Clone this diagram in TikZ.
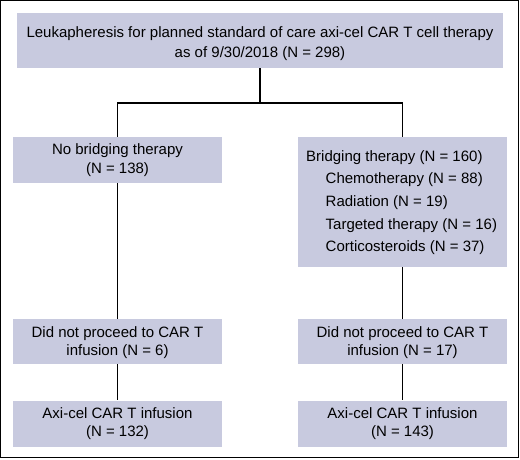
\documentclass[tikz,border=0pt]{standalone}
\usepackage{fontspec}
\setmainfont{Liberation Sans}
\definecolor{boxfill}{HTML}{C8CADF}
\begin{document}
\begin{tikzpicture}[x=1pt,y=-1pt,
  box/.style={fill=boxfill, draw=none, inner sep=0pt},
  txt/.style={font=\fontsize{15}{18}\selectfont, anchor=base, inner sep=0pt},
  item/.style={txt, anchor=base west},
  conn/.style={draw=black, line width=1.7pt}]
\useasboundingbox (0,0) rectangle (520,459);
\draw[line width=1pt] (0.5,0.5) rectangle (518.5,457.5);
% boxes
\node[box, minimum width=486, minimum height=55] (top) at (260,40.5) {};
\node[txt] (top1) at (260,37.5) {Leukapheresis for planned standard of care axi-cel CAR T cell therapy};
\node[txt] (top2) at (260,57) {as of 9/30/2018 (N = 298)};
\node[box, minimum width=209, minimum height=46] (nob) at (117.5,160) {};
\node[txt] (nob1) at (117.5,154.5) {No bridging therapy};
\node[txt] (nob2) at (117.5,173.5) {(N = 138)};
\node[box, minimum width=209, minimum height=130, anchor=north] (br) at (402.5,137) {};
\node[item] (brt) at (306,161) {Bridging therapy (N = 160)};
\node[item] (l1) at (325.5,183.7) {Chemotherapy (N = 88)};
\node[item] (l2) at (325.5,206.3) {Radiation (N = 19)};
\node[item] (l3) at (325.5,229) {Targeted therapy (N = 16)};
\node[item] (l4) at (325.5,251.7) {Corticosteroids (N = 37)};
\node[box, minimum width=209, minimum height=45] (dl) at (117.5,341.5) {};
\node[txt] (dl1) at (117.5,337.3) {Did not proceed to CAR T};
\node[txt] (dl2) at (117.5,355.7) {infusion (N = 6)};
\node[box, minimum width=209, minimum height=45] (dr) at (402.5,341.5) {};
\node[txt] (dr1) at (402.5,337.3) {Did not proceed to CAR T};
\node[txt] (dr2) at (402.5,355.7) {infusion (N = 17)};
\node[box, minimum width=209, minimum height=46] (al) at (117.5,423.5) {};
\node[txt] (al1) at (117.5,418.3) {Axi-cel CAR T infusion};
\node[txt] (al2) at (117.5,436) {(N = 132)};
\node[box, minimum width=209, minimum height=46] (ar) at (402.5,423.5) {};
\node[txt] (ar1) at (402.5,418.3) {Axi-cel CAR T infusion};
\node[txt] (ar2) at (402.5,436) {(N = 143)};
% connectors
\coordinate (split) at (260,103);
\draw[conn] (top.south) -- (split);
\draw[conn] (nob.north) |- (split) -| (br.north);
\draw[conn] (nob.south) -- (dl.north);
\draw[conn] (br.south) -- (dr.north);
\draw[conn] (dl.south) -- (al.north);
\draw[conn] (dr.south) -- (ar.north);
\end{tikzpicture}
\end{document}
